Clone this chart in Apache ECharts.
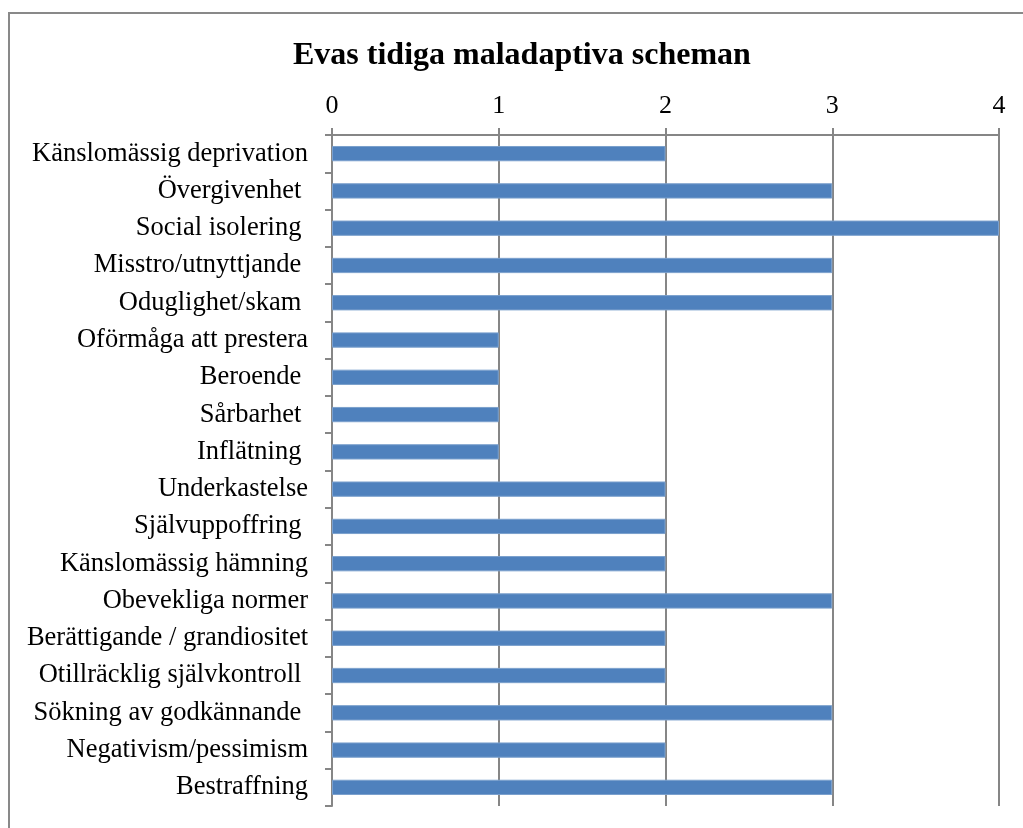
<!DOCTYPE html>
<html><head><meta charset="utf-8">
<script src="https://cdn.jsdelivr.net/npm/echarts@6/dist/echarts.min.js"></script>
<style>html,body{margin:0;padding:0;background:#fff}#c{width:1023px;height:828px}</style>
</head><body><div id="c"></div>
<script>
const titleText = 'Evas tidiga maladaptiva scheman';
const categories = [
  'Känslomässig deprivation', 'Övergivenhet ', 'Social isolering ', 'Misstro/utnyttjande ',
  'Oduglighet/skam ', 'Oförmåga att prestera', 'Beroende ', 'Sårbarhet ', 'Inflätning ',
  'Underkastelse', 'Självuppoffring ', 'Känslomässig hämning', 'Obevekliga normer',
  'Berättigande / grandiositet', 'Otillräcklig självkontroll ', 'Sökning av godkännande ',
  'Negativism/pessimism', 'Bestraffning'
];
const values = [2, 3, 4, 3, 3, 1, 1, 1, 1, 2, 2, 2, 3, 2, 2, 3, 2, 3];
const xTicks = [0, 1, 2, 3, 4];

const font = '"Liberation Serif", "Times New Roman", serif';
const chart = echarts.init(document.getElementById('c'), null, {renderer: 'canvas'});
chart.setOption({
  animation: false,
  graphic: [{
    type: 'rect', shape: {x: 9, y: 13, width: 1040, height: 840},
    style: {fill: 'none', stroke: '#898989', lineWidth: 2}, silent: true
  }],
  title: {
    text: titleText, left: 288, top: 35,
    textStyle: {fontFamily: font, fontWeight: 'bold', fontSize: 32, color: '#000'}
  },
  grid: {left: 332, right: 24, top: 135, bottom: 22, containLabel: false},
  xAxis: {
    type: 'value', position: 'top', min: xTicks[0], max: xTicks[xTicks.length - 1], interval: 1,
    axisLine: {show: true, lineStyle: {color: '#868686', width: 2}},
    axisTick: {show: true, length: 7, lineStyle: {color: '#868686', width: 2}},
    splitLine: {show: true, lineStyle: {color: '#868686', width: 2}},
    axisLabel: {fontFamily: font, fontSize: 26, color: '#000', margin: 16}
  },
  yAxis: {
    type: 'category', data: categories, inverse: true,
    axisLine: {show: true, lineStyle: {color: '#868686', width: 2}},
    axisTick: {show: true, length: 7, lineStyle: {color: '#868686', width: 2}},
    axisLabel: {fontFamily: font, fontSize: 26.5, color: '#000', margin: 24, padding: [4, 0, 0, 0]}
  },
  series: [{
    type: 'bar', data: values, barCategoryGap: '59%',
    itemStyle: {color: '#4F81BD', borderColor: '#7BA0CD', borderWidth: 1}
  }]
});
</script></body></html>
